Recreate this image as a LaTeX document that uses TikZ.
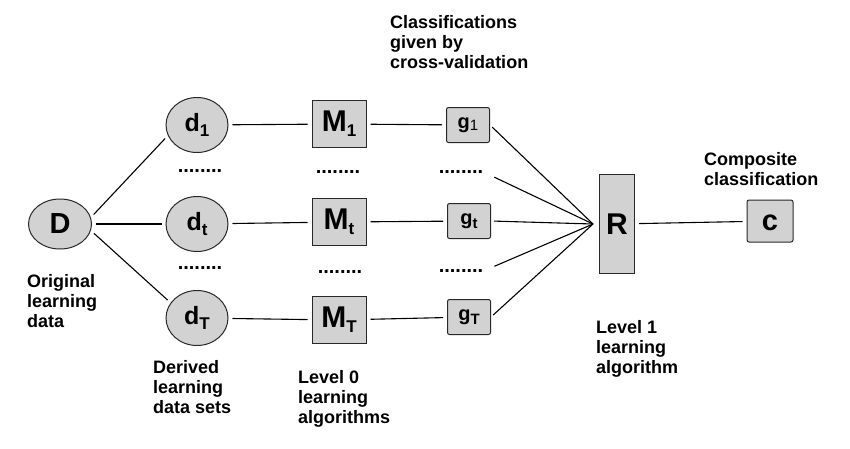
\documentclass[tikz,border=0pt]{standalone}
\usepackage{fontspec}
\setmainfont{Liberation Sans}
\usetikzlibrary{shapes.geometric}
\definecolor{gfill}{RGB}{210,210,210}
\definecolor{gline}{RGB}{40,40,40}
\newcommand\subtx[3]{\raisebox{-#1pt}{\fontsize{#2}{#2}\selectfont #3}}
\begin{document}
\begin{tikzpicture}[x=1pt,y=-1pt,
 ell/.style={ellipse,draw=gline,fill=gfill,line width=1pt,inner sep=0pt,minimum width=62pt,minimum height=55pt,font=\fontsize{25}{25}\selectfont\bfseries},
 mbox/.style={rectangle,draw=gline,fill=gfill,line width=1pt,inner sep=0pt,minimum width=54pt,minimum height=47pt,font=\fontsize{30}{30}\selectfont\bfseries},
 gbox/.style={rectangle,rounded corners=2pt,draw=gline,fill=gfill,line width=1pt,inner sep=0pt,minimum width=43pt,minimum height=35pt,font=\fontsize{20}{20}\selectfont\bfseries},
 lbl/.style={align=left,anchor=base west,font=\fontsize{18}{20}\selectfont\bfseries,inner sep=0pt},
 dotrow/.style={inner sep=0pt,font=\fontsize{20}{20}\selectfont\bfseries},
 conn/.style={line width=1.1pt,shorten <=4pt,shorten >=4pt}]
\useasboundingbox (0,0) rectangle (850,448);

% nodes
\node[ell,minimum width=63pt,minimum height=50pt,font=\fontsize{29}{29}\selectfont\bfseries] (D) at (60,224) {D};
\node[ell] (d1) at (197,125) {d\subtx{5}{17}{1}};
\node[ell] (dt) at (197,224) {d\subtx{5}{17}{t}};
\node[ell] (dT) at (197,318) {d\subtx{5}{17}{T}};

\node[mbox] (M1) at (339,124) {M\subtx{5}{17}{1}};
\node[mbox] (Mt) at (339,222) {M\subtx{5}{17}{t}};
\node[mbox] (MT) at (339,320) {M\subtx{5}{17}{T}};

\node[gbox] (g1) at (468,125) {g\subtx{2}{15}{\mdseries 1}};
\node[gbox] (gt) at (469,221) {g\subtx{4}{15}{t}};
\node[gbox] (gT) at (469,317) {g\subtx{4}{15}{T}};

\node[mbox,minimum width=35pt,minimum height=99pt] (R) at (617,224) {R};
\node[gbox,minimum width=46pt,minimum height=42pt,font=\fontsize{29}{29}\selectfont\bfseries] (c) at (770,221) {\raisebox{-2pt}[\height][0pt]{c}};

% dots
\node[dotrow] (dd1) at (200,171) {........};
\node[dotrow] (dd2) at (200,268) {........};
\node[dotrow] (dm1) at (338,172) {........};
\node[dotrow] (dm2) at (340,272) {........};
\node[dotrow] (dg1) at (461,172) {........};
\node[dotrow] (dg2) at (461,271) {........};

\coordinate (Rin) at (593,224);

% connectors
\draw[conn] (D.12) -- (d1.-160);
\draw[conn] (D) -- (dt);
\draw[conn] (D.-12) -- (dT.150);
\draw[conn] (d1) -- (M1);
\draw[conn] (dt) -- (Mt);
\draw[conn] (dT) -- (MT);
\draw[conn] (M1) -- (g1);
\draw[conn] (Mt) -- (gt);
\draw[conn] (MT) -- (gT);
\draw[conn,shorten >=0pt,shorten <=3pt] (g1.east) -- (Rin);
\draw[conn,shorten >=0pt,shorten <=12pt] (dg1.east) -- (Rin);
\draw[conn,shorten >=0pt,shorten <=3pt] (gt.east) -- (Rin);
\draw[conn,shorten >=0pt,shorten <=12pt] (dg2.east) -- (Rin);
\draw[conn,shorten >=0pt,shorten <=3pt] (gT.east) -- (Rin);
\draw[conn] (R) -- (c);

% labels (anchor = baseline of last line)
\node[lbl] (lorig) at (27,327) {Original\\learning\\data};
\node[lbl] (lder) at (153,413) {Derived\\learning\\data sets};
\node[lbl] (ll0) at (298,423) {Level 0\\learning\\algorithms};
\node[lbl] (lcls) at (390,68) {Classifications\\given by\\cross-validation};
\node[lbl] (ll1) at (596,373) {Level 1\\learning\\algorithm};
\node[lbl] (lcomp) at (704,185) {Composite\\classification};
\end{tikzpicture}
\end{document}
